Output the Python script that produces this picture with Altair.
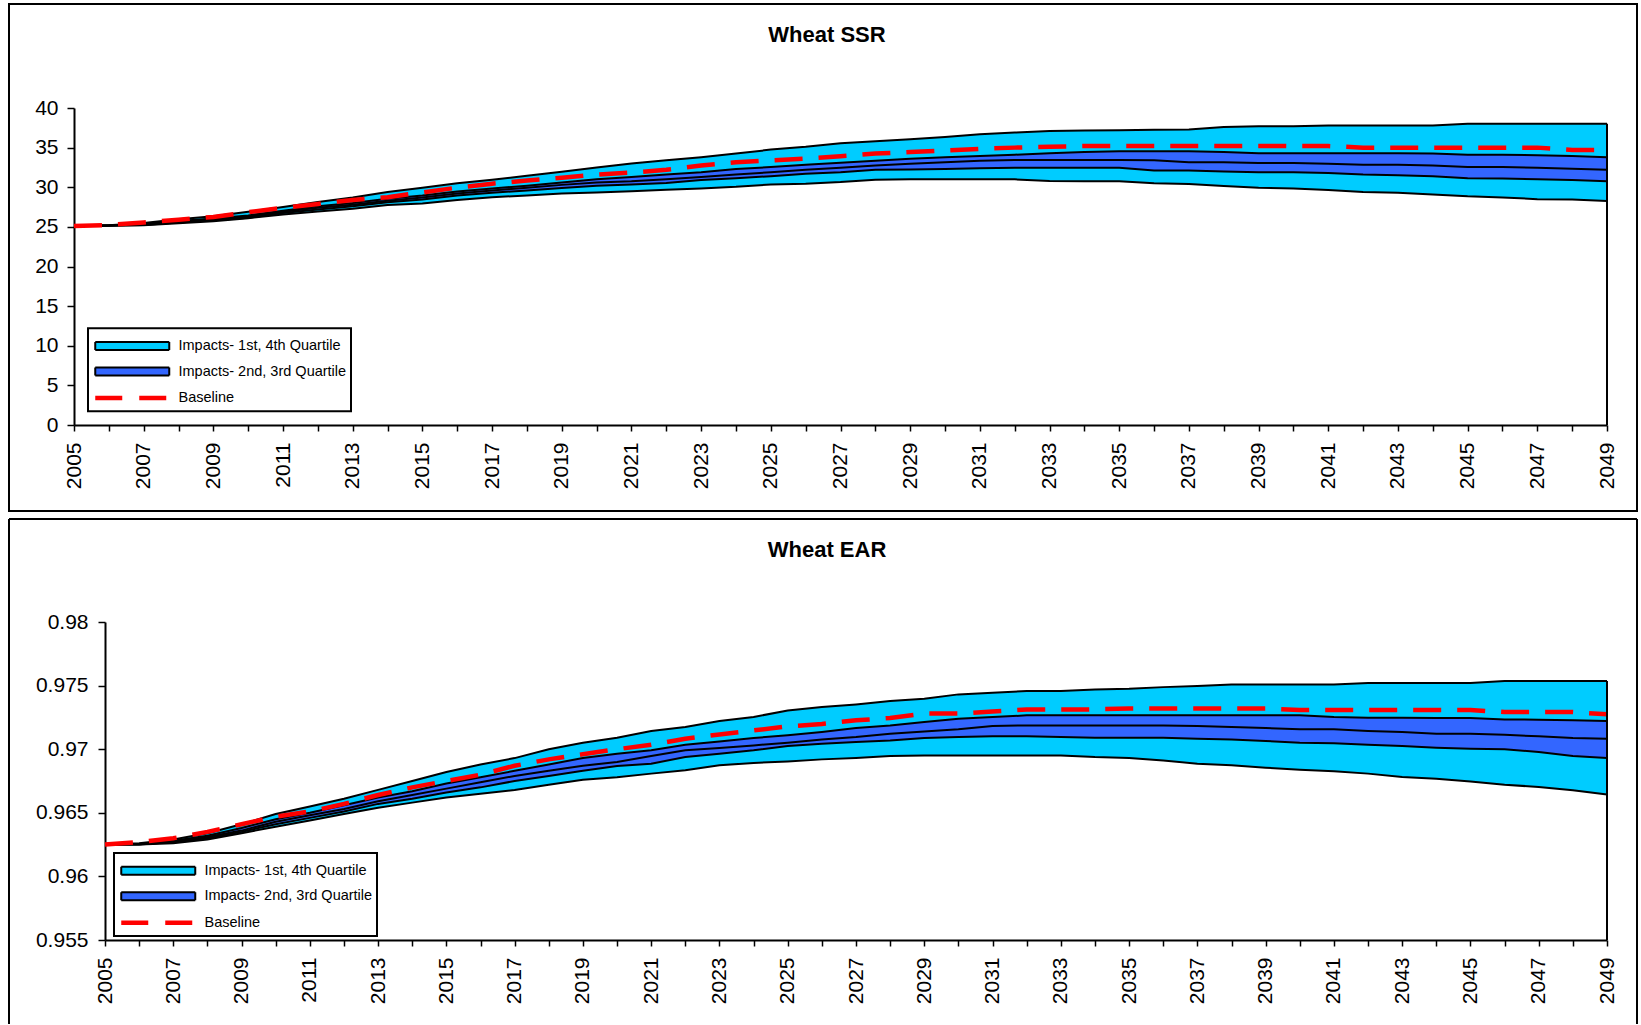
import altair as alt
import pandas as pd

years = list(range(2005, 2050))

# ---------- Wheat SSR ----------
ssr_min = [25.1, 25.15, 25.2, 25.45, 25.7, 26.1, 26.55, 26.95, 27.3, 27.75,
           27.95, 28.4, 28.75, 28.95, 29.2, 29.35, 29.5, 29.7, 29.85, 30.05,
           30.35, 30.45, 30.65, 30.95, 31.0, 31.0, 31.0, 31.0, 30.8, 30.75,
           30.75, 30.5, 30.4, 30.15, 29.95, 29.85, 29.65, 29.4, 29.3, 29.1,
           28.85, 28.7, 28.5, 28.45, 28.25]
ssr_q2 = [25.1, 25.16, 25.25, 25.55, 25.85, 26.15, 26.75, 27.2, 27.6, 28.1,
          28.45, 28.95, 29.3, 29.6, 29.9, 30.2, 30.35, 30.55, 30.9, 31.15,
          31.4, 31.7, 31.9, 32.2, 32.25, 32.3, 32.4, 32.45, 32.45, 32.45,
          32.45, 32.1, 32.1, 32.0, 31.9, 31.9, 31.8, 31.6, 31.5, 31.4,
          31.15, 31.1, 31.0, 30.9, 30.75]
ssr_med = [25.1, 25.17, 25.3, 25.65, 25.95, 26.3, 26.9, 27.4, 27.8, 28.3,
           28.7, 29.2, 29.6, 29.95, 30.3, 30.6, 30.75, 31.0, 31.3, 31.6,
           31.9, 32.2, 32.45, 32.75, 32.95, 33.15, 33.35, 33.45, 33.45, 33.45,
           33.45, 33.4, 33.15, 33.15, 33.05, 33.05, 32.95, 32.85, 32.85, 32.75,
           32.55, 32.55, 32.45, 32.35, 32.2]
ssr_q3 = [25.1, 25.18, 25.35, 25.75, 26.05, 26.45, 27.05, 27.6, 28.0, 28.55,
          28.95, 29.45, 29.85, 30.2, 30.6, 31.0, 31.3, 31.6, 31.9, 32.3,
          32.55, 32.85, 33.1, 33.35, 33.6, 33.8, 33.95, 34.1, 34.3, 34.45,
          34.55, 34.55, 34.55, 34.45, 34.3, 34.3, 34.3, 34.3, 34.3, 34.25,
          34.1, 34.1, 34.05, 33.95, 33.8]
ssr_max = [25.1, 25.2, 25.5, 25.95, 26.35, 26.9, 27.5, 28.15, 28.7, 29.4,
           29.95, 30.5, 30.95, 31.45, 31.95, 32.5, 33.0, 33.4, 33.8, 34.25,
           34.75, 35.1, 35.55, 35.8, 36.05, 36.35, 36.7, 36.9, 37.1, 37.15,
           37.2, 37.25, 37.3, 37.6, 37.7, 37.7, 37.8, 37.8, 37.8, 37.8,
           38.0, 38.0, 38.0, 38.0, 38.0]
ssr_base = [25.1, 25.25, 25.55, 25.9, 26.25, 26.85, 27.4, 27.9, 28.4, 28.75,
            29.35, 29.95, 30.45, 30.85, 31.2, 31.6, 31.85, 32.2, 32.75, 33.15,
            33.4, 33.6, 33.9, 34.25, 34.45, 34.65, 34.85, 35.0, 35.1, 35.2,
            35.2, 35.2, 35.2, 35.2, 35.2, 35.2, 35.2, 35.0, 35.0, 35.0,
            35.0, 35.0, 35.0, 34.7, 34.7]

# ---------- Wheat EAR ----------
ear_min = [0.9625, 0.9625, 0.9626, 0.9629, 0.9634, 0.9639, 0.9644, 0.9649, 0.9654, 0.9658,
           0.9662, 0.9665, 0.9668, 0.9672, 0.9676, 0.9678, 0.96808, 0.96834, 0.96873, 0.96892,
           0.96904, 0.9692, 0.96931, 0.96946, 0.96951, 0.96951, 0.96951, 0.96951, 0.96951, 0.96938,
           0.96931, 0.96912, 0.96886, 0.96873, 0.96855, 0.96839, 0.96826, 0.96808, 0.96781, 0.96768,
           0.96747, 0.96721, 0.96703, 0.96677, 0.96643]
ear_q2 = [0.9625, 0.9625, 0.9627, 0.9630, 0.9635, 0.9641, 0.9646, 0.9651, 0.9657, 0.9661,
          0.9666, 0.9670, 0.9675, 0.9679, 0.9683, 0.96868, 0.96886, 0.96938, 0.96965, 0.96991,
          0.97025, 0.97043, 0.97057, 0.97069, 0.97088, 0.97096, 0.97101, 0.97101, 0.97096, 0.9709,
          0.9709, 0.9709, 0.97082, 0.97077, 0.97064, 0.97051, 0.97046, 0.97035, 0.97025, 0.97012,
          0.97004, 0.96999, 0.96978, 0.96946, 0.96931]
ear_med = [0.9625, 0.96252, 0.9627, 0.9631, 0.9636, 0.9643, 0.9648, 0.9653, 0.9659, 0.9664,
           0.9669, 0.9674, 0.9679, 0.9683, 0.9687, 0.9690, 0.96946, 0.96991, 0.97009, 0.9703,
           0.97051, 0.97077, 0.97096, 0.97122, 0.9714, 0.97156, 0.97182, 0.97187, 0.97187, 0.97187,
           0.97187, 0.97187, 0.97182, 0.97174, 0.97167, 0.97156, 0.97156, 0.97143, 0.97135, 0.97122,
           0.97122, 0.97114, 0.97101, 0.97088, 0.97082]
ear_q3 = [0.9625, 0.96255, 0.9628, 0.9632, 0.9638, 0.9645, 0.9650, 0.9656, 0.9662, 0.9667,
          0.9673, 0.9678, 0.9683, 0.9688, 0.9693, 0.96965, 0.96991, 0.97035, 0.97061, 0.97088,
          0.97109, 0.97135, 0.97167, 0.97187, 0.97214, 0.9724, 0.97253, 0.97266, 0.97266, 0.97266,
          0.97266, 0.97266, 0.97266, 0.97266, 0.97266, 0.97266, 0.97253, 0.97248, 0.97248, 0.97245,
          0.97245, 0.97234, 0.97232, 0.97227, 0.97222]
ear_max = [0.9625, 0.9626, 0.9629, 0.9634, 0.9641, 0.9649, 0.9655, 0.9661, 0.9668, 0.9675,
           0.9682, 0.9688, 0.9693, 0.9700, 0.9705, 0.9709, 0.97143, 0.97174, 0.97222, 0.97253,
           0.97305, 0.97331, 0.97352, 0.97378, 0.97397, 0.97431, 0.97444, 0.97457, 0.97457, 0.9747,
           0.97475, 0.97488, 0.97496, 0.97509, 0.97509, 0.97509, 0.97509, 0.9752, 0.9752, 0.9752,
           0.9752, 0.97536, 0.97536, 0.97536, 0.97536]
ear_base = [0.9625, 0.9627, 0.9630, 0.9635, 0.9641, 0.9647, 0.9651, 0.9657, 0.9664, 0.9670,
            0.9675, 0.9680, 0.9687, 0.9692, 0.9696, 0.9700, 0.97035, 0.97082, 0.97116, 0.97148,
            0.97179, 0.97198, 0.97227, 0.97245, 0.9728, 0.9728, 0.97297, 0.97313, 0.97313, 0.97313,
            0.9732, 0.9732, 0.9732, 0.9732, 0.9732, 0.97308, 0.97308, 0.97308, 0.97308, 0.97308,
            0.97308, 0.97292, 0.97292, 0.97292, 0.97274]

series_labels = ["Impacts- 1st, 4th Quartile", "Impacts- 2nd, 3rd Quartile", "Baseline"]
series_colors = ["#00CCFF", "#3366FF", "#FF0000"]

ssr_ticks = [0, 5, 10, 15, 20, 25, 30, 35, 40]
ear_ticks = [0.955, 0.96, 0.965, 0.97, 0.975, 0.98]

FONT = "Liberation Sans"
L1, L2, L3 = series_labels


def make_df(mn, q2, md, q3, mx, base):
    return pd.DataFrame({"year": years, "mn": mn, "q2": q2, "md": md,
                         "q3": q3, "mx": mx, "base": base})


IS_BL = f"datum.value === '{L3}'"
sym_shape = alt.ExprRef(expr=f"{IS_BL} ? 'M-1,0H8.25' : 'M-1,-0.5H8.25V0.5H-1Z'")
sym_stroke = alt.ExprRef(expr=f"{IS_BL} ? '{series_colors[2]}' : '#000000'")
sym_sw = alt.ExprRef(expr=f"{IS_BL} ? 4.5 : 2")
sym_dash = alt.ExprRef(expr=f"{IS_BL} ? [27, 17] : [1, 0]")


def make_legend(lx, ly):
    return alt.Legend(
        title=" ", titleFontSize=2, titlePadding=4.5,
        orient="none", legendX=lx, legendY=ly,
        labelFont=FONT, labelFontSize=14.5, labelColor="black", labelLimit=400,
        labelOffset=68, symbolOffset=4, symbolSize=256, padding=4, rowPadding=8.5,
        strokeColor="black", fillColor="white",
        symbolType=sym_shape, symbolStrokeColor=sym_stroke,
        symbolStrokeWidth=sym_sw, symbolDash=sym_dash, symbolOpacity=1,
    )


W = 1533  # width of each panel's plotting group


def frame_layer(x1, x2, y1, y2, closed):
    src = alt.Chart(alt.Data(values=[{"f": 1}]))
    if closed:
        return [src.mark_rect(fill="transparent", stroke="black", strokeWidth=2).encode(
            x=alt.value(x1), x2=alt.value(x2), y=alt.value(y1), y2=alt.value(y2))]
    rule = dict(color="black", strokeWidth=2)
    return [
        src.mark_rule(**rule).encode(x=alt.value(x1), x2=alt.value(x2), y=alt.value(y1)),
        src.mark_rule(**rule).encode(x=alt.value(x1), y=alt.value(y1), y2=alt.value(y2)),
        src.mark_rule(**rule).encode(x=alt.value(x2), y=alt.value(y1), y2=alt.value(y2)),
    ]


def panel(df, title, shift, H, ydom, yvals, yfmt, ylabpad, frame, closed, leg_xy):
    xaxis = alt.Axis(values=years, format="d",
                     labelExpr="datum.value % 2 == 1 ? datum.label : ''",
                     labelAngle=-90, labelFont=FONT, labelFontSize=21, labelColor="black",
                     labelPadding=11, labelOverlap=False, labelFlush=False,
                     tickColor="black", tickSize=6, tickWidth=1.5,
                     domainColor="black", domainWidth=2, grid=False, title=None)
    yaxis = alt.Axis(values=yvals, format=yfmt, labelFont=FONT, labelFontSize=21,
                     labelColor="black", labelPadding=ylabpad, labelOverlap=False,
                     labelFlush=False, tickColor="black", tickSize=7, tickWidth=1.5,
                     domainColor="black", domainWidth=2, grid=False, title=None,
                     offset=-shift)
    xs = alt.Scale(domain=[2005, 2049], nice=False, zero=False, range=[shift, W])
    ys = alt.Scale(domain=ydom, nice=False, zero=False)
    X = alt.X("year:Q", scale=xs, axis=xaxis)
    cscale = alt.Scale(domain=series_labels, range=series_colors)
    col = alt.Color("s:N", scale=cscale, legend=make_legend(*leg_xy))

    def Y(f):
        return alt.Y(f"{f}:Q", scale=ys, axis=yaxis)

    base = alt.Chart(df)
    frames = frame_layer(*frame, closed)

    outer = base.transform_calculate(s=f"'{L1}'").mark_area(opacity=1).encode(
        x=X, y=Y("mn"), y2="mx:Q", color=col)
    inner = base.transform_calculate(s=f"'{L2}'").mark_area(opacity=1).encode(
        x=X, y=Y("q2"), y2="q3:Q", color=col)
    lines = [base.mark_line(color="black", strokeWidth=2).encode(x=X, y=Y(f))
             for f in ["mn", "mx", "q2", "q3", "md"]]
    bl = base.mark_line(color=series_colors[2], strokeWidth=4.5,
                        strokeDash=[28, 16]).encode(x=X, y=Y("base"))
    edge = base.transform_filter("datum.year == 2049").mark_rule(
        color="black", strokeWidth=2
    ).encode(x=X, y=Y("mx"), y2=alt.datum(ydom[0]))

    return alt.layer(*frames, outer, inner, *lines, bl, edge).properties(
        width=W, height=H,
        title=alt.Title(title, font=FONT, fontSize=22, fontWeight="bold", color="black",
                        anchor="middle", frame="group", dx=-13.5, offset=-61,
                        baseline="alphabetic"),
    )


df_ssr = make_df(ssr_min, ssr_q2, ssr_med, ssr_q3, ssr_max, ssr_base)
df_ear = make_df(ear_min, ear_q2, ear_med, ear_q3, ear_max, ear_base)

top = panel(df_ssr, "Wheat SSR", 0, 317, [0, 40], ssr_ticks, "d", 9,
            (-65, 1563, -104, 403), True, (14, 220.3))
bottom = panel(df_ear, "Wheat EAR", 31, 318, [0.955, 0.98], ear_ticks, ".3~f", 10,
               (-65, 1563, -103, 402), False, (40, 231))

chart = alt.concat(top, bottom, columns=1, spacing=6, align="none").properties(
    padding={"left": 8, "top": 3, "right": 0, "bottom": 0}
).resolve_scale(
    x="independent", y="independent", color="independent"
).configure_view(stroke=None).configure_legend(strokeWidth=2)

chart.save("out.html", embed_options={"renderer": "svg", "actions": False})
